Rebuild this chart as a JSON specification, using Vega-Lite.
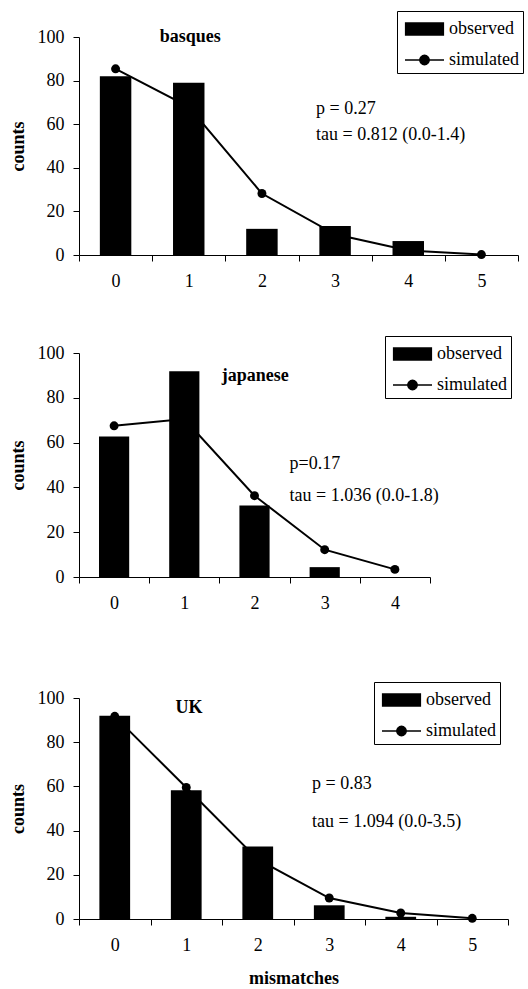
{
  "$schema": "https://vega.github.io/schema/vega-lite/v6.json",
  "padding": {"left": 9, "top": 10, "right": 0, "bottom": 0},
  "background": "white",
  "spacing": 45,
  "config": {
    "font": "Liberation Serif, Times New Roman, serif",
    "view": {"stroke": null},
    "axis": {"labelFont": "Liberation Serif, Times New Roman, serif", "labelFontSize": 18, "labelColor": "black", "domainColor": "black", "tickColor": "black", "titleFont": "Liberation Serif, Times New Roman, serif", "titleFontSize": 18, "titleFontWeight": "bold", "titleColor": "black", "grid": false, "tickSize": 6},
    "axisX": {"tickBand": "extent", "labelAngle": 0, "labelPadding": 11, "titlePadding": 15},
    "axisY": {"labelPadding": 9, "titlePadding": 10, "values": [0, 20, 40, 60, 80, 100]},
    "legend": {"labelFont": "Liberation Serif, Times New Roman, serif", "labelFontSize": 18, "labelColor": "black", "strokeColor": "black", "padding": 4, "symbolSize": 676, "rowPadding": 8, "symbolOffset": 9.5, "labelOffset": 10.5, "symbolStrokeWidth": 1.5},
    "text": {"font": "Liberation Serif, Times New Roman, serif", "fontSize": 18, "color": "black"}
  },
  "datasets": {
    "basques": [
      {"m": "0", "observed": 82, "simulated": 85.4},
      {"m": "1", "observed": 79, "simulated": 68},
      {"m": "2", "observed": 12, "simulated": 28.2},
      {"m": "3", "observed": 13.3, "simulated": 9.5},
      {"m": "4", "observed": 6.4, "simulated": 2.1},
      {"m": "5", "observed": 0, "simulated": 0.2}
    ],
    "japanese": [
      {"m": "0", "observed": 62.7, "simulated": 67.5},
      {"m": "1", "observed": 91.9, "simulated": 70.5},
      {"m": "2", "observed": 31.9, "simulated": 36.3},
      {"m": "3", "observed": 4.4, "simulated": 12.2},
      {"m": "4", "observed": 0, "simulated": 3.4}
    ],
    "uk": [
      {"m": "0", "observed": 92, "simulated": 91.7},
      {"m": "1", "observed": 58.3, "simulated": 59.5},
      {"m": "2", "observed": 32.8, "simulated": 27},
      {"m": "3", "observed": 6.2, "simulated": 9.5},
      {"m": "4", "observed": 1, "simulated": 2.7},
      {"m": "5", "observed": 0, "simulated": 0.3}
    ],
    "basques_title": [{"m": "1", "y": 97.5, "label": "basques"}],
    "basques_notes": [
      {"m": "3", "y": 64.5, "label": "p = 0.27"},
      {"m": "3", "y": 52.6, "label": "tau = 0.812 (0.0-1.4)"}
    ],
    "japanese_title": [{"m": "2", "y": 87.6, "label": "japanese"}],
    "japanese_notes": [
      {"m": "3", "y": 48, "label": "p=0.17"},
      {"m": "3", "y": 34, "label": "tau = 1.036 (0.0-1.8)"}
    ],
    "uk_title": [{"m": "1", "y": 93.2, "label": "UK"}],
    "uk_notes": [
      {"m": "3", "y": 59, "label": "p = 0.83"},
      {"m": "3", "y": 41.8, "label": "tau = 1.094 (0.0-3.5)"}
    ]
  },
  "resolve": {"scale": {"color": "independent", "x": "independent", "y": "independent"}, "legend": {"color": "independent"}},
  "vconcat": [
    {
      "width": 439,
      "height": 218,
      "layer": [
        {
          "data": {"name": "basques"},
          "mark": {"type": "bar", "width": {"band": 0.43}},
          "encoding": {
            "x": {"field": "m", "type": "ordinal", "scale": {"paddingInner": 0, "paddingOuter": 0}, "axis": {"title": null}},
            "y": {"field": "observed", "type": "quantitative", "scale": {"domain": [0, 100], "nice": false}, "axis": {"title": "counts"}},
            "color": {
              "datum": "observed",
              "scale": {"domain": ["observed", "simulated"], "range": ["black", "black"]},
              "legend": {
                "title": null, "orient": "none", "legendX": 318, "legendY": -26,
                "encode": {"symbols": {"update": {
                  "shape": {"signal": "datum.value === 'observed' ? 'M-1.45,-0.46H1.45V0.46H-1.45Z' : 'M-1.5,0H1.5M0.36,0A0.36,0.36,0,1,1,-0.36,0A0.36,0.36,0,1,1,0.36,0Z'"},
                  "fill": {"value": "black"}, "stroke": {"value": "black"}, "strokeWidth": {"value": 1.5}, "opacity": {"value": 1}
                }}}
              }
            }
          }
        },
        {
          "data": {"name": "basques"},
          "mark": {"type": "line", "strokeWidth": 2, "point": {"filled": true, "size": 80}},
          "encoding": {
            "x": {"field": "m", "type": "ordinal", "scale": {"paddingInner": 0, "paddingOuter": 0}, "axis": {"title": null}},
            "y": {"field": "simulated", "type": "quantitative", "scale": {"domain": [0, 100], "nice": false}, "axis": {"title": "counts"}},
            "color": {"datum": "simulated"}
          }
        },
        {
          "data": {"name": "basques_title"},
          "mark": {"type": "text", "fontWeight": "bold", "align": "center", "baseline": "alphabetic"},
          "encoding": {
            "x": {"field": "m", "type": "ordinal", "bandPosition": 0.52, "axis": {"title": null}},
            "y": {"field": "y", "type": "quantitative", "scale": {"domain": [0, 100], "nice": false}, "axis": {"title": "counts"}},
            "text": {"field": "label"}
          }
        },
        {
          "data": {"name": "basques_notes"},
          "mark": {"type": "text", "align": "left", "baseline": "alphabetic"},
          "encoding": {
            "x": {"field": "m", "type": "ordinal", "bandPosition": 0.24, "axis": {"title": null}},
            "y": {"field": "y", "type": "quantitative", "scale": {"domain": [0, 100], "nice": false}, "axis": {"title": "counts"}},
            "text": {"field": "label"}
          }
        }
      ]
    },
    {
      "width": 351,
      "height": 224,
      "layer": [
        {
          "data": {"name": "japanese"},
          "mark": {"type": "bar", "width": {"band": 0.43}},
          "encoding": {
            "x": {"field": "m", "type": "ordinal", "scale": {"paddingInner": 0, "paddingOuter": 0}, "axis": {"title": " ", "titlePadding": 6}},
            "y": {"field": "observed", "type": "quantitative", "scale": {"domain": [0, 100], "nice": false}, "axis": {"title": "counts"}},
            "color": {
              "datum": "observed",
              "scale": {"domain": ["observed", "simulated"], "range": ["black", "black"]},
              "legend": {
                "title": null, "orient": "none", "legendX": 306, "legendY": -17,
                "encode": {"symbols": {"update": {
                  "shape": {"signal": "datum.value === 'observed' ? 'M-1.45,-0.46H1.45V0.46H-1.45Z' : 'M-1.5,0H1.5M0.36,0A0.36,0.36,0,1,1,-0.36,0A0.36,0.36,0,1,1,0.36,0Z'"},
                  "fill": {"value": "black"}, "stroke": {"value": "black"}, "strokeWidth": {"value": 1.5}, "opacity": {"value": 1}
                }}}
              }
            }
          }
        },
        {
          "data": {"name": "japanese"},
          "mark": {"type": "line", "strokeWidth": 2, "point": {"filled": true, "size": 80}},
          "encoding": {
            "x": {"field": "m", "type": "ordinal", "scale": {"paddingInner": 0, "paddingOuter": 0}, "axis": {"title": " ", "titlePadding": 6}},
            "y": {"field": "simulated", "type": "quantitative", "scale": {"domain": [0, 100], "nice": false}, "axis": {"title": "counts"}},
            "color": {"datum": "simulated"}
          }
        },
        {
          "data": {"name": "japanese_title"},
          "mark": {"type": "text", "fontWeight": "bold", "align": "center", "baseline": "alphabetic"},
          "encoding": {
            "x": {"field": "m", "type": "ordinal", "bandPosition": 0.51, "axis": {"title": " ", "titlePadding": 6}},
            "y": {"field": "y", "type": "quantitative", "scale": {"domain": [0, 100], "nice": false}, "axis": {"title": "counts"}},
            "text": {"field": "label"}
          }
        },
        {
          "data": {"name": "japanese_notes"},
          "mark": {"type": "text", "align": "left", "baseline": "alphabetic"},
          "encoding": {
            "x": {"field": "m", "type": "ordinal", "bandPosition": 0.0, "axis": {"title": " ", "titlePadding": 6}},
            "y": {"field": "y", "type": "quantitative", "scale": {"domain": [0, 100], "nice": false}, "axis": {"title": "counts"}},
            "text": {"field": "label"}
          }
        }
      ]
    },
    {
      "width": 429,
      "height": 221,
      "layer": [
        {
          "data": {"name": "uk"},
          "mark": {"type": "bar", "width": {"band": 0.43}},
          "encoding": {
            "x": {"field": "m", "type": "ordinal", "scale": {"paddingInner": 0, "paddingOuter": 0}, "axis": {"title": "mismatches"}},
            "y": {"field": "observed", "type": "quantitative", "scale": {"domain": [0, 100], "nice": false}, "axis": {"title": "counts"}},
            "color": {
              "datum": "observed",
              "scale": {"domain": ["observed", "simulated"], "range": ["black", "black"]},
              "legend": {
                "title": null, "orient": "none", "legendX": 295, "legendY": -16,
                "encode": {"symbols": {"update": {
                  "shape": {"signal": "datum.value === 'observed' ? 'M-1.45,-0.46H1.45V0.46H-1.45Z' : 'M-1.5,0H1.5M0.36,0A0.36,0.36,0,1,1,-0.36,0A0.36,0.36,0,1,1,0.36,0Z'"},
                  "fill": {"value": "black"}, "stroke": {"value": "black"}, "strokeWidth": {"value": 1.5}, "opacity": {"value": 1}
                }}}
              }
            }
          }
        },
        {
          "data": {"name": "uk"},
          "mark": {"type": "line", "strokeWidth": 2, "point": {"filled": true, "size": 80}},
          "encoding": {
            "x": {"field": "m", "type": "ordinal", "scale": {"paddingInner": 0, "paddingOuter": 0}, "axis": {"title": "mismatches"}},
            "y": {"field": "simulated", "type": "quantitative", "scale": {"domain": [0, 100], "nice": false}, "axis": {"title": "counts"}},
            "color": {"datum": "simulated"}
          }
        },
        {
          "data": {"name": "uk_title"},
          "mark": {"type": "text", "fontWeight": "bold", "align": "center", "baseline": "alphabetic"},
          "encoding": {
            "x": {"field": "m", "type": "ordinal", "bandPosition": 0.54, "axis": {"title": "mismatches"}},
            "y": {"field": "y", "type": "quantitative", "scale": {"domain": [0, 100], "nice": false}, "axis": {"title": "counts"}},
            "text": {"field": "label"}
          }
        },
        {
          "data": {"name": "uk_notes"},
          "mark": {"type": "text", "align": "left", "baseline": "alphabetic"},
          "encoding": {
            "x": {"field": "m", "type": "ordinal", "bandPosition": 0.26, "axis": {"title": "mismatches"}},
            "y": {"field": "y", "type": "quantitative", "scale": {"domain": [0, 100], "nice": false}, "axis": {"title": "counts"}},
            "text": {"field": "label"}
          }
        }
      ]
    }
  ]
}
